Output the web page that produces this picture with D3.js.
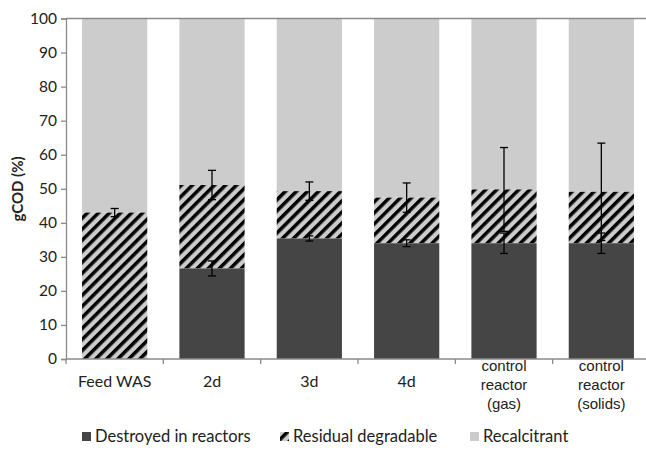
<!DOCTYPE html>
<html><head><meta charset="utf-8">
<script src="https://cdn.jsdelivr.net/npm/d3@7"></script>
<style>body{margin:0;background:#fff}svg{display:block}</style>
</head><body>
<script>
const categories = [["Feed WAS"],["2d"],["3d"],["4d"],["control","reactor","(gas)"],["control","reactor","(solids)"]];
const destroyed = [0, 26.6, 35.4, 34.0, 34.0, 34.0];
const residual = [43.0, 24.5, 13.9, 13.4, 15.8, 15.1];
const destroyedErr = [0, 2.2, 0.75, 1.0, 3.0, 3.0];
const residualErr = [1.2, 4.3, 2.7, 4.3, 12.3, 14.3];
const yTicks = [0,10,20,30,40,50,60,70,80,90,100];
const seriesNames = ["Destroyed in reactors","Residual degradable","Recalcitrant"];

const W = 646, H = 450;
const svg = d3.select("body").append("svg").attr("width", W).attr("height", H);
const defs = svg.append("defs");
const pat = defs.append("pattern").attr("id","hatch").attr("patternUnits","userSpaceOnUse")
  .attr("width",7.8).attr("height",7.8).attr("patternTransform","rotate(45)");
pat.append("rect").attr("width",7.8).attr("height",7.8).attr("fill","#cccccc");
pat.append("rect").attr("x",0).attr("width",3.5).attr("height",7.8).attr("fill","#000");

const x = d3.scaleBand().domain(d3.range(categories.length)).range([66, 650]).paddingInner(0.33).paddingOuter(0.165);
const y = d3.scaleLinear().domain([0,100]).range([359, 18.5]);
const axisColor = "#8a8a8a";

const g = svg.append("g");
const rows = categories.map((c,i)=>({i, d: destroyed[i], r: residual[i]}));
rows.forEach(o=>{
  const bx = x(o.i), bw = x.bandwidth();
  g.append("rect").attr("x",bx).attr("width",bw).attr("y",y(100)).attr("height",y(o.d+o.r)-y(100)).attr("fill","#cccccc");
  g.append("rect").attr("x",bx).attr("width",bw).attr("y",y(o.d+o.r)).attr("height",y(o.d)-y(o.d+o.r)).attr("fill","url(#hatch)");
  if (o.d>0) g.append("rect").attr("x",bx).attr("width",bw).attr("y",y(o.d)).attr("height",y(0)-y(o.d)).attr("fill","#454545");
});

const yAxis = svg.append("g").attr("transform","translate(66,0)")
  .call(d3.axisLeft(y).tickValues(yTicks).tickSize(5).tickPadding(4));
yAxis.select(".domain").attr("stroke",axisColor).attr("stroke-width",1.3);
yAxis.selectAll(".tick line").attr("stroke",axisColor).attr("stroke-width",1.3);
yAxis.selectAll(".tick text").attr("font-family","Lato").attr("font-size",15.5).attr("fill","#222");

svg.append("line").attr("x1",66).attr("x2",W).attr("y1",y(100)).attr("y2",y(100)).attr("stroke",axisColor).attr("stroke-width",1.3);

svg.append("line").attr("x1",66).attr("x2",W).attr("y1",y(0)).attr("y2",y(0)).attr("stroke",axisColor).attr("stroke-width",1.3);
const step = x.step();
d3.range(categories.length+1).forEach(k=>{
  const tx = 66 + k*step;
  svg.append("line").attr("x1",tx).attr("x2",tx).attr("y1",y(0)).attr("y2",y(0)+5).attr("stroke",axisColor).attr("stroke-width",1.3);
});
categories.forEach((lines,i)=>{
  const cx = x(i)+x.bandwidth()/2;
  const t = svg.append("text").attr("text-anchor","middle").attr("fill","#222");
  if (lines.length===1) {
    t.attr("font-family","Lato").attr("font-size",16).attr("x",cx).attr("y",387).text(lines[0]);
  } else {
    t.attr("font-family","Liberation Sans, Arial").attr("font-size",15);
    lines.forEach((l,j)=>t.append("tspan").attr("x",cx).attr("y",371+j*19).text(l));
  }
});

function errBar(i, v, e) {
  if (e<=0) return;
  const cx = x(i)+x.bandwidth()/2;
  const eg = svg.append("g").attr("stroke","#000").attr("stroke-width",1.3);
  eg.append("line").attr("x1",cx).attr("x2",cx).attr("y1",y(v+e)).attr("y2",y(v-e));
  [v+e, v-e].forEach(yy=>eg.append("line").attr("x1",cx-4).attr("x2",cx+4).attr("y1",y(yy)).attr("y2",y(yy)));
}
rows.forEach(o=>{
  errBar(o.i, o.d, destroyedErr[o.i]);
  errBar(o.i, o.d+o.r, residualErr[o.i]);
});

svg.append("text").attr("transform","translate(23,189) rotate(-90)").attr("text-anchor","middle")
  .attr("font-family","Lato").attr("font-weight","bold").attr("font-size",15).attr("fill","#222").text("gCOD (%)");

const legendX = [82, 280, 470];
const legendFill = ["#454545","url(#hatch)","#cccccc"];
seriesNames.forEach((n,i)=>{
  svg.append("rect").attr("x",legendX[i]).attr("y",432).attr("width",9).attr("height",9).attr("fill",legendFill[i]);
  svg.append("text").attr("x",legendX[i]+13).attr("y",442).attr("font-family","Lato").attr("font-size",16.5).attr("fill","#222").text(n);
});
</script>
</body></html>
